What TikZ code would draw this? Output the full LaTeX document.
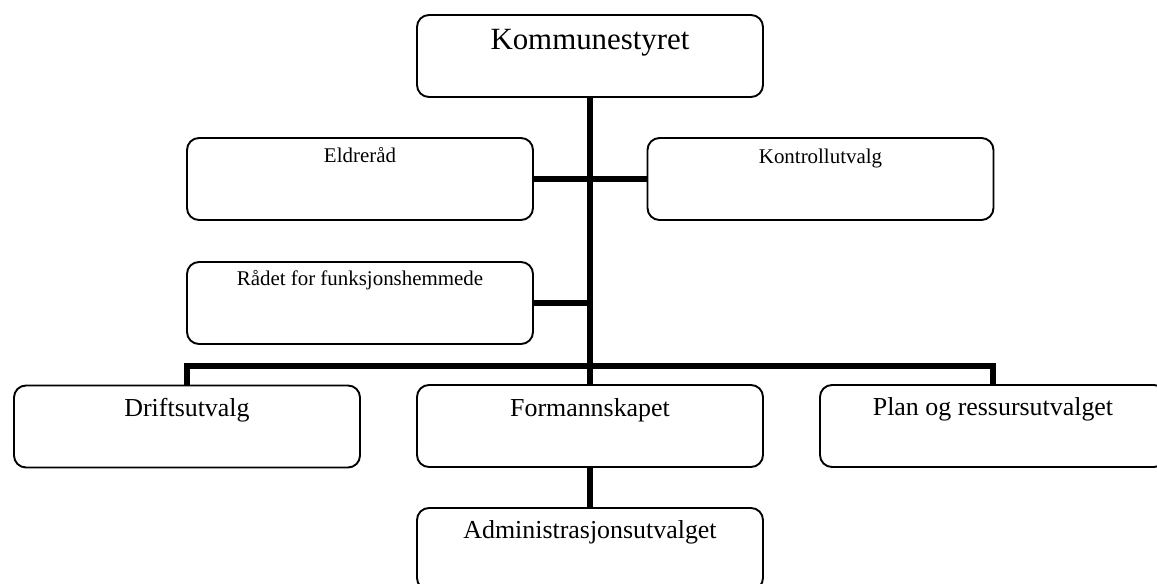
\documentclass[tikz,border=0pt]{standalone}
\usepackage{fontspec}
\setmainfont{Liberation Serif}
\begin{document}
\begin{tikzpicture}[x=1bp,y=-1bp,
  box/.style={draw, line width=1.9bp, rounded corners=12bp, fill=white, inner sep=0pt, outer sep=0pt, minimum width=346bp, minimum height=82bp},
  conn/.style={line width=6bp, line join=miter},
  big/.style={font=\fontsize{31}{36}\selectfont, anchor=base, inner sep=0pt},
  mid/.style={font=\fontsize{26}{30}\selectfont, anchor=base, inner sep=0pt},
  small/.style={font=\fontsize{21}{25}\selectfont, anchor=base, inner sep=0pt}]
\useasboundingbox (0,0) rectangle (1157,584);
\clip (0,0) rectangle (1157,584);
% boxes
\node[box] (ks)  at (590,56)    {};
\node[box] (eld) at (360,179)   {};
\node[box] (kon) at (820.5,179) {};
\node[box] (rad) at (360,303)   {};
\node[box] (dri) at (187,426.5) {};
\node[box] (for) at (590,426)   {};
\node[box] (pla) at (993,426)   {};
\node[box] (adm) at (590,549)   {};
% labels
\node[big]   (ks-t)  at ([yshift=-35bp]ks.north)  {Kommunestyret};
\node[small] (eld-t) at ([yshift=-25bp]eld.north) {Eldreråd};
\node[small] (kon-t) at ([yshift=-26bp]kon.north) {Kontrollutvalg};
\node[small] (rad-t) at ([yshift=-24bp]rad.north) {Rådet for funksjonshemmede};
\node[mid]   (dri-t) at ([yshift=-31bp]dri.north) {Driftsutvalg};
\node[mid]   (for-t) at ([yshift=-31bp]for.north) {Formannskapet};
\node[mid]   (pla-t) at ([yshift=-30bp]pla.north) {Plan og ressursutvalget};
\node[mid]   (adm-t) at ([yshift=-30bp]adm.north) {Administrasjonsutvalget};
% connectors
\coordinate (bus) at (590,366);
\draw[conn] (ks.south) -- (for.north);
\draw[conn] (eld.east) -- (kon.west);
\draw[conn] (rad.east) -- (rad.east -| ks.south);
\draw[conn] (dri.north) |- (bus) -| (pla.north);
\draw[conn] (for.south) -- (adm.north);
\end{tikzpicture}
\end{document}
